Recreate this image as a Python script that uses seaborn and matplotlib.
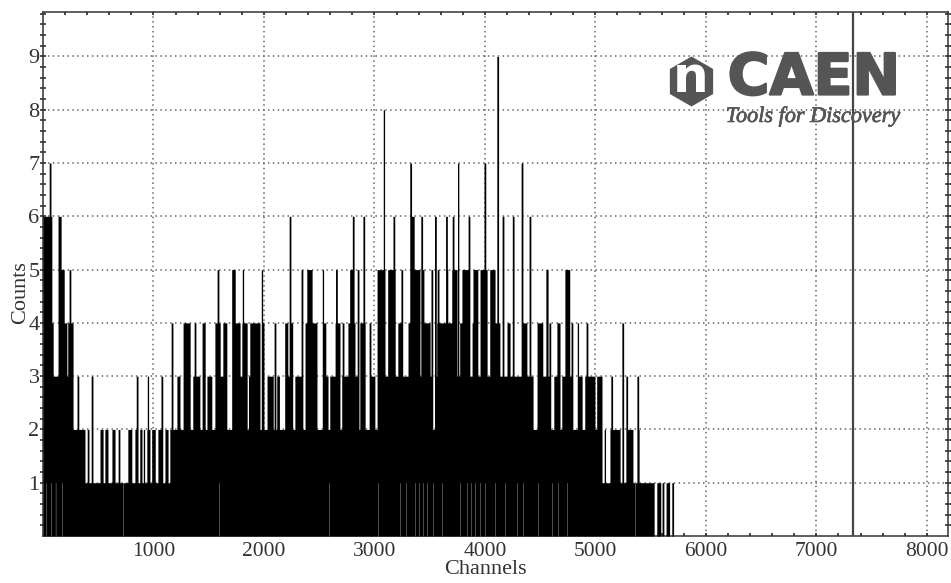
import numpy as np
import pandas as pd
import seaborn as sns
from matplotlib import pyplot as plt
from matplotlib import patheffects as pe

# channel ranges / single channels reaching each count
level_1_bands = [(0, 5530), (5557, 5590)]
level_1_spikes = [5611, 5647, 5665, 5701]
level_2_bands = [(0, 380), (516, 543), (561, 588), (624, 652), (679, 697), (769, 805), (833, 860),
                 (878, 896), (941, 968), (986, 1014), (1041, 1077), (1104, 1131), (1149, 1290),
                 (1302, 4930), (4969, 5041), (5131, 5222), (5285, 5340)]
level_2_spikes = [407, 914, 5086, 5390]
level_3_bands = [(0, 271), (1213, 1240), (1267, 1300), (1358, 1421), (1484, 1529), (1557, 1647), (1710, 1810),
                 (1860, 1890), (1925, 1950), (2027, 2082), (2115, 2140), (2190, 2253), (2281, 2353), (2416, 2480),
                 (2552, 2578), (2597, 2660), (2706, 2760), (2806, 2860), (2887, 2914), (2959, 3005), (3023, 3520),
                 (3557, 4344), (4380, 4434), (4480, 4588), (4624, 4660), (4697, 4787), (4842, 4878), (4905, 4996),
                 (5014, 5059)]
level_3_spikes = [317, 443, 851, 950, 1077, 1167, 1448, 1982, 5149, 5285, 5385]
level_4_bands = [(0, 90), (135, 217), (226, 271), (1267, 1330), (1439, 1466), (1557, 1602), (1629, 1665),
                 (1710, 1783), (1801, 1846), (1873, 1964), (2190, 2217), (2371, 2398), (2434, 2480),
                 (2534, 2561), (2643, 2688), (2869, 2914), (3023, 3095), (3122, 3186), (3213, 3249),
                 (3303, 3349), (3385, 3412), (3439, 3502), (3566, 3711), (3774, 3837), (3955, 4018),
                 (4073, 4136), (4199, 4226), (4335, 4380), (4471, 4525), (4652, 4679)]
level_4_spikes = [1167, 1376, 1991, 2100, 2253, 2344, 2715, 2769, 2815, 2959, 3892, 4254, 4588, 4787,
                  4842, 4923, 5249]
level_5_bands = [(18, 81), (135, 190), (1710, 1738), (2389, 2434), (2778, 2806), (3023, 3095), (3122, 3186),
                 (3321, 3412), (3701, 3747), (3792, 3864), (3892, 3937), (3955, 4018), (4045, 4091),
                 (4552, 4570), (4724, 4769)]
level_5_spikes = [245, 1584, 1810, 1982, 2344, 2534, 2655, 2851, 3249, 3439, 3520, 3575, 3656, 4163, 4254,
                  4335, 4407]
level_6_bands = [(0, 80), (135, 165), (3330, 3358)]
level_6_spikes = [2235, 2808, 2905, 3177, 3427, 3553, 3653, 3712, 3855, 4165, 4255, 4408]
level_7_spikes = [63, 3327, 3758, 4000, 4337]
level_8_spikes = [3086]
level_9_spikes = [4115]
# pale columns below count 1 inside the black part
empty_channels = [30, 75, 115, 170, 724, 1593, 2588, 3032, 3231, 3285, 3367, 3403, 3440, 3475, 3530, 3611,
                  3774, 3837, 3873, 3910, 3955, 4000, 4091, 4181, 4290, 4344, 4480, 4606, 4660, 4742, 5358]
cursor_channel = 7330

x_major = [1000, 2000, 3000, 4000, 5000, 6000, 7000, 8000]
y_major = [1, 2, 3, 4, 5, 6, 7, 8, 9]

levels = [
    (1, level_1_bands, level_1_spikes),
    (2, level_2_bands, level_2_spikes),
    (3, level_3_bands, level_3_spikes),
    (4, level_4_bands, level_4_spikes),
    (5, level_5_bands, level_5_spikes),
    (6, level_6_bands, level_6_spikes),
    (7, [], level_7_spikes),
    (8, [], level_8_spikes),
    (9, [], level_9_spikes),
]

edges = np.arange(0, 5800, 4)
channels = edges[:-1] + 2
counts = np.zeros(len(channels))
for lvl, bands, spikes in levels:
    for a, b in bands:
        counts[(channels >= a) & (channels <= b)] = lvl
    for s in spikes:
        counts[np.abs(channels - s) <= 7] = lvl

df = pd.DataFrame({'channel': channels, 'counts': counts})

sns.set_theme(style='white')
plt.rcParams['font.family'] = ['Liberation Serif', 'DejaVu Serif']

fig = plt.figure(figsize=(9.51, 5.83), dpi=100)
W, H = 951, 583
ax = fig.add_axes([43 / W, 1 - 536 / H, (948 - 43) / W, (536 - 11.7) / H])

sns.histplot(data=df, x='channel', weights='counts', bins=edges.tolist(), element='step', fill=True,
             color='black', alpha=1, linewidth=0, ax=ax, zorder=3)
sns.histplot(x=empty_channels, bins=edges.tolist(), element='step', fill=True,
             color='#aaaaaa', alpha=1, linewidth=0, ax=ax, zorder=3.5)
for c in ax.collections:
    c.set_snap(False)

ax.axvline(cursor_channel, color='#444444', lw=1.6, zorder=5)

ax.set_xlim(0, 8192)
ax.set_ylim(0, 9.84)
ax.set_xticks(x_major)
ax.set_xticks(np.arange(200, 8192, 200), minor=True)
ax.set_yticks(y_major)
ax.set_yticks(np.arange(0.2, 9.84, 0.2), minor=True)
ax.set_axisbelow(True)
ax.grid(True, which='major', color='#666666', lw=1.1, ls=(0, (1, 2.2)))

ax.tick_params(axis='x', which='both', direction='in', top=True, bottom=True, length=2.5, width=1.2,
               color='#222222', labelsize=15.5, labelcolor='#333333', pad=4.5)
ax.tick_params(axis='y', which='both', direction='inout', left=True, right=True, length=5, width=1.1,
               color='#222222', labelsize=16, labelcolor='#333333', pad=0)
for s in ax.spines.values():
    s.set_color('#333333')
    s.set_linewidth(1.1)

ax.set_xlabel('')
ax.set_ylabel('')
fig.text(485 / W, 1 - 570 / H, 'Channels', fontsize=16, color='#333333', ha='center', va='center')
fig.text(21 / W, 1 - 293 / H, 'Counts', fontsize=16, color='#333333', ha='center', va='center', rotation=90)

# logo
logo = '#555555'
hexagon = [[(691.5 + 25 * np.sin(a)) / W, 1 - (81.5 - 25 * np.cos(a)) / H] for a in np.arange(6) * np.pi / 3]
fig.add_artist(plt.Polygon(hexagon, closed=True, color=logo, lw=0, transform=fig.transFigure, zorder=4))
fig.text(691 / W, 1 - 78 / H, 'n', family='DejaVu Sans', weight='bold', fontsize=36, color='white',
         ha='center', va='center', zorder=4.5)
caen = fig.text(814 / W, 1 - 79 / H, 'CAEN', family='DejaVu Sans', weight='bold', fontsize=41, color=logo,
                ha='center', va='center', zorder=4)
caen.set_path_effects([pe.withStroke(linewidth=1.6, foreground=logo)])
tools = fig.text(813 / W, 1 - 117 / H, 'Tools for Discovery', style='italic', fontsize=16, color=logo,
                 ha='center', va='center', zorder=6)
tools.set_path_effects([pe.withStroke(linewidth=0.5, foreground=logo)])

fig.savefig('out.png', dpi=100)
